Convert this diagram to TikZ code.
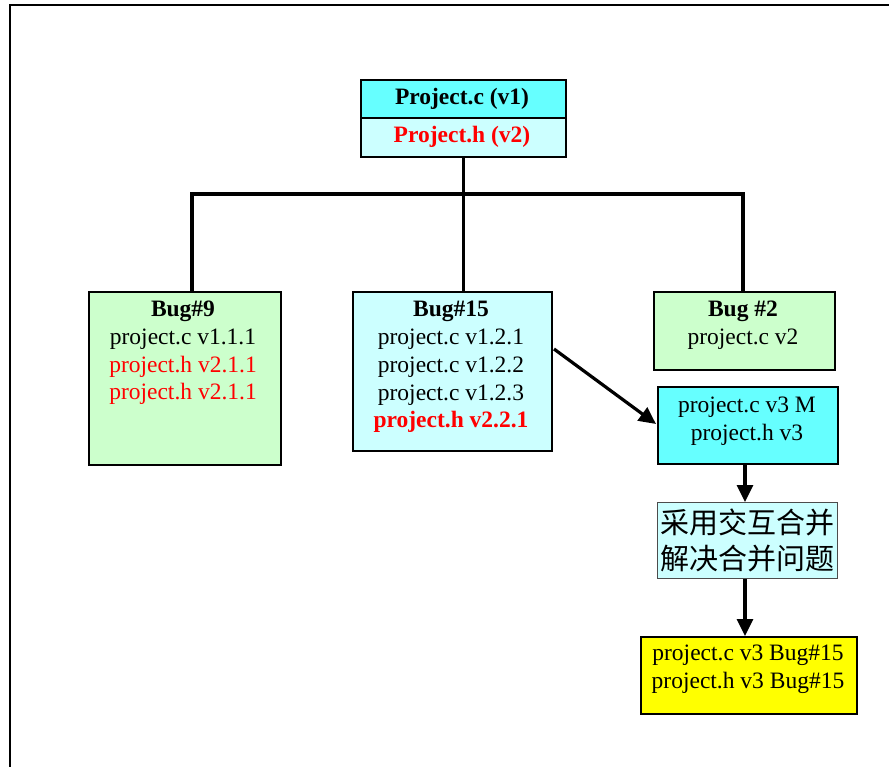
\documentclass[tikz,border=0pt]{standalone}
\usepackage{fontspec}
\setmainfont{Liberation Serif}
\newfontfamily\cjk{Noto Sans CJK SC}
\usetikzlibrary{arrows.meta}
\definecolor{cyanA}{HTML}{66FFFF}
\definecolor{cyanB}{HTML}{CCFFFF}
\definecolor{greenA}{HTML}{CCFFCC}
\definecolor{yelA}{HTML}{FFFF00}
\definecolor{redA}{HTML}{FF0000}
\tikzset{
  box/.style={draw=black, line width=2pt, inner sep=0pt, anchor=north west},
  txt/.style={align=center, inner sep=0pt, font=\fontsize{23.5}{27.8}\selectfont},
  conn/.style={line width=3.2pt},
  arr/.style={line width=3.2pt, -{Triangle[length=17pt,width=16pt]}},
  frame/.style={line width=2.6pt}
}
\begin{document}
\begin{tikzpicture}[x=1pt,y=-1pt]
\useasboundingbox (0,0) rectangle (889,767);
% frame
\coordinate (fb) at (10,767);
\coordinate (fc) at (10,5);
\coordinate (fr) at (889,5);
\draw[frame] (fb) -- (fc) -- (fr);

% top node
\node[box, fill=cyanA, minimum width=205pt, minimum height=38pt] (topa) at (360,79) {};
\node[box, fill=cyanB, minimum width=205pt, minimum height=39pt] (topb) at (360,117) {};
\node[txt, font=\fontsize{23.5}{27.8}\selectfont\bfseries] (topat) at (462,99) {Project.c (v1)};
\node[txt, font=\fontsize{23.5}{27.8}\selectfont\bfseries, text=redA] (topbt) at (462,137) {Project.h (v2)};

% bug boxes
\node[box, fill=greenA, minimum width=192pt, minimum height=173pt] (b9) at (88,291) {};
\node[box, fill=cyanB, minimum width=199pt, minimum height=159pt] (b15) at (352,291) {};
\node[box, fill=greenA, minimum width=181pt, minimum height=78pt] (b2) at (653,291) {};

\node[txt] (b9t) at (183,353) {\textbf{Bug\#9}\\project.c v1.1.1\\\textcolor{redA}{project.h v2.1.1}\\\textcolor{redA}{project.h v2.1.1}};
\node[txt] (b15t) at (451,367) {\textbf{Bug\#15}\\project.c v1.2.1\\project.c v1.2.2\\project.c v1.2.3\\\textcolor{redA}{\textbf{project.h v2.2.1}}};
\node[txt] (b2t) at (743,325) {\textbf{Bug \#2}\\project.c v2};

% merge boxes
\node[box, fill=cyanA, minimum width=180pt, minimum height=77pt] (m3) at (657,386) {};
\node[txt] (m3t) at (747,421) {project.c v3 M\\project.h v3};
\node[box, fill=cyanB, draw=gray!60!black, line width=0.9pt, minimum width=180pt, minimum height=76pt] (cn) at (657,502) {};
\node[txt, font=\cjk\fontsize{29}{36}\selectfont] (cnt) at (747,540) {采用交互合并\\解决合并问题};
\node[box, fill=yelA, minimum width=216pt, minimum height=77pt] (yl) at (640,636) {};
\node[txt] (ylt) at (748,669) {project.c v3 Bug\#15\\project.h v3 Bug\#15};

% tree connectors
\coordinate (hl) at (192,194);
\coordinate (hm) at (topb.south |- hl);
\coordinate (hr) at (743,194);
\draw[conn] (topb.south) -- (hm);
\draw[conn] (b9.north -| hl) -- (hl) -- (hr) -- (b2.north -| hr);
\draw[conn] (hm) -- (b15.north -| hm);

% arrows
\coordinate (as) at (554,349);
\draw[arr] (as) -- (656,424);
\draw[arr] (m3.south -| 745,0) -- (cn.north -| 745,0);
\draw[arr] (cn.south -| 745,0) -- (yl.north -| 745,0);
\end{tikzpicture}
\end{document}
